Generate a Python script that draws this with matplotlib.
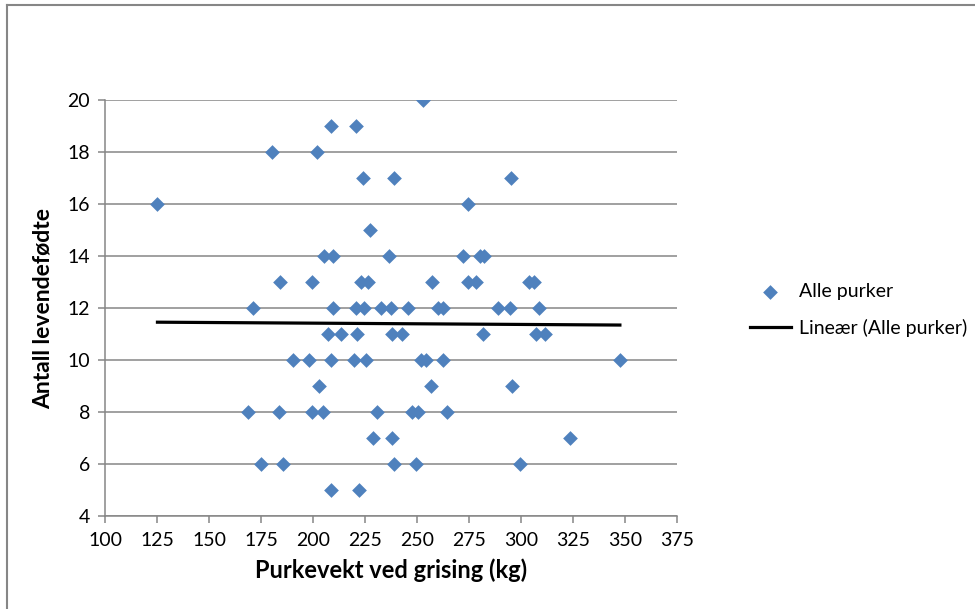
import numpy as np
import matplotlib
matplotlib.use("Agg")
import matplotlib.pyplot as plt
from matplotlib.lines import Line2D

plt.rcParams['font.family'] = ['Lato', 'DejaVu Sans']

# Purkevekt ved grising (kg) and antall levendefødte, one list per litter size
weight = [253,
          208.5, 220.5,
          180, 202,
          224, 239, 295,
          125, 274.5,
          227.5,
          205, 209.5, 236.5, 272, 280, 282,
          184, 199.5, 223, 226.5, 257, 274.5, 278.5, 304, 306,
          171, 209.5, 220.5, 224.5, 232.5, 237.5, 245.5, 260, 262.5, 289, 294.5, 308.5,
          207, 213.5, 221, 238, 242.5, 281.5, 307, 311.5,
          190, 198, 208.5, 219.5, 225.5, 252, 254, 262.5, 347.5,
          202.5, 256.5, 295.5,
          168.5, 183.5, 199.5, 204.5, 230.5, 247.5, 250.5, 264.5,
          228.5, 238, 323.5,
          175, 185.5, 239, 249.5, 299.5,
          208.5, 222]
born = ([20] + [19] * 2 + [18] * 2 + [17] * 3 + [16] * 2 + [15] + [14] * 6
        + [13] * 9 + [12] * 12 + [11] * 8 + [10] * 9 + [9] * 3 + [8] * 8
        + [7] * 3 + [6] * 5 + [5] * 2)

x_ticks = list(range(100, 376, 25))
y_ticks = list(range(4, 21, 2))

weight = np.array(weight)
born = np.array(born)

fig = plt.figure(figsize=(9.75, 6.09), dpi=100)
ax = fig.add_axes([0.1082, 0.1519, 0.5862, 0.6839])

grey = '#868686'
ax.scatter(weight, born, marker='D', s=7.5 ** 2, color='#4F81BD',
           linewidths=0, zorder=3, label='Alle purker')

# linear trend line (Excel "Lineær")
k, m = np.polyfit(weight, born, 1)
xs = np.array([weight.min(), weight.max()])
ax.plot(xs, k * xs + m, color='black', lw=2.3, zorder=4,
        label='Lineær (Alle purker)')

ax.set_xlim(100, 375)
ax.set_ylim(4, 20)
ax.set_xticks(x_ticks)
ax.set_yticks(y_ticks)
ax.yaxis.grid(True, color=grey, lw=1.1)
ax.set_axisbelow(True)
for s in ['top', 'right']:
    ax.spines[s].set_visible(False)
for s in ['left', 'bottom']:
    ax.spines[s].set_color(grey)
    ax.spines[s].set_linewidth(1.1)
ax.tick_params(direction='out', length=5, width=1.1, color=grey,
               labelsize=14, pad=6)

ax.set_xlabel('Purkevekt ved grising (kg)', fontsize=17, fontweight='bold',
              labelpad=7)
ax.set_ylabel('Antall levendefødte', fontsize=16.5, fontweight='bold',
              labelpad=10)

ax.legend(loc='center left', bbox_to_anchor=(750 / 975, 1 - 310 / 609),
          bbox_transform=fig.transFigure, frameon=False, fontsize=14,
          handlelength=2.1, handletextpad=0.4, labelspacing=1.0,
          borderpad=0, borderaxespad=0)

# chart area border (only top and left edges are visible)
fig.add_artist(Line2D([7 / 975, 1], [1 - 5 / 609] * 2, color=grey, lw=1.5,
                      transform=fig.transFigure))
fig.add_artist(Line2D([7 / 975] * 2, [0, 1 - 5 / 609], color=grey, lw=1.5,
                      transform=fig.transFigure))

fig.savefig('out.png', dpi=100)
